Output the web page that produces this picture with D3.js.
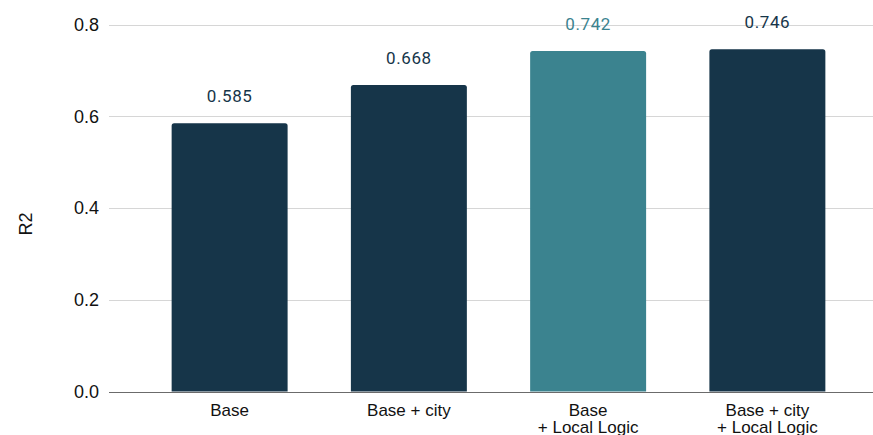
<!DOCTYPE html>
<html>
<head>
<meta charset="utf-8">
<script src="https://cdn.jsdelivr.net/npm/d3@7"></script>
<style>
  body { margin: 0; background: #fff; }
  svg { display: block; }
</style>
</head>
<body>
<div id="chart"></div>
<script>
var categories = [["Base"], ["Base + city"], ["Base", "+ Local Logic"], ["Base + city", "+ Local Logic"]];
var values = [0.585, 0.668, 0.742, 0.746];
var highlight = [false, false, true, false];
var yTicks = [0, 0.2, 0.4, 0.6, 0.8];

var W = 873, H = 435;
var colors = { dark: "#163549", teal: "#3b838f" };

var svg = d3.select("#chart")
    .append("svg")
    .attr("width", W)
    .attr("height", H);

var x = d3.scaleBand()
    .domain(d3.range(values.length))
    .range([140, 857])
    .paddingInner(0.353)
    .paddingOuter(0.1765);

var y = d3.scaleLinear()
    .domain([0, 0.8])
    .range([391.5, 24.5]);

// gridlines
svg.append("g")
    .selectAll("line")
    .data(yTicks)
    .enter()
    .append("line")
    .attr("x1", 109)
    .attr("x2", W)
    .attr("y1", function (d) { return Math.round(y(d)) + 0.5; })
    .attr("y2", function (d) { return Math.round(y(d)) + 0.5; })
    .style("stroke", function (d) { return d === 0 ? "#6b6b6b" : "#d6d6d6"; })
    .style("stroke-width", 1.2);

// y tick labels
svg.append("g")
    .selectAll("text")
    .data(yTicks)
    .enter()
    .append("text")
    .attr("x", 99)
    .attr("y", function (d) { return y(d); })
    .attr("dy", "0.35em")
    .style("text-anchor", "end")
    .style("font-family", "Liberation Sans, Arial, sans-serif")
    .style("font-size", "18px")
    .style("fill", "#111")
    .text(function (d) { return d.toFixed(1); });

// y axis title
svg.append("text")
    .attr("transform", "translate(32,224) rotate(-90)")
    .style("text-anchor", "middle")
    .style("font-family", "Liberation Sans, Arial, sans-serif")
    .style("font-size", "18px")
    .style("fill", "#111")
    .text("R2");

// bars
svg.append("g")
    .selectAll("path")
    .data(values)
    .enter()
    .append("path")
    .attr("d", function (d, i) {
        var x0 = x(i), x1 = x(i) + x.bandwidth(), y0 = y(d), y1 = y(0), r = 2.5;
        return "M" + x0 + "," + y1 + "V" + (y0 + r) + "Q" + x0 + "," + y0 + " " + (x0 + r) + "," + y0 +
            "H" + (x1 - r) + "Q" + x1 + "," + y0 + " " + x1 + "," + (y0 + r) + "V" + y1 + "Z";
    })
    .style("fill", function (d, i) { return highlight[i] ? colors.teal : colors.dark; });

// value labels
svg.append("g")
    .selectAll("text")
    .data(values)
    .enter()
    .append("text")
    .attr("x", function (d, i) { return x(i) + x.bandwidth() / 2; })
    .attr("y", function (d) { return y(d) - 21; })
    .style("text-anchor", "middle")
    .style("font-family", "Roboto, sans-serif")
    .style("font-size", "17px")
    .style("letter-spacing", "0.6px")
    .style("fill", function (d, i) { return highlight[i] ? colors.teal : colors.dark; })
    .text(function (d) { return d.toFixed(3); });

// category labels (second line runs off the bottom edge, as in the source)
var cat = svg.append("g")
    .selectAll("text")
    .data(categories)
    .enter()
    .append("text")
    .attr("x", function (d, i) { return x(i) + x.bandwidth() / 2; })
    .attr("y", 416)
    .style("text-anchor", "middle")
    .style("font-family", "Liberation Sans, Arial, sans-serif")
    .style("font-size", "17px")
    .style("fill", "#111");

cat.selectAll("tspan")
    .data(function (d) { return d; })
    .enter()
    .append("tspan")
    .attr("x", function () { return d3.select(this.parentNode).attr("x"); })
    .attr("dy", function (d, j) { return j === 0 ? 0 : 17; })
    .text(function (d) { return d; });
</script>
</body>
</html>
